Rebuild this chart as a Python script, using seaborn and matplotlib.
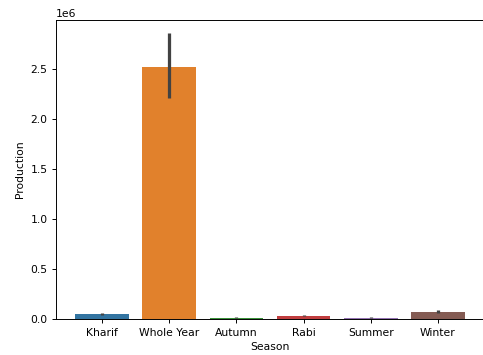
import matplotlib
matplotlib.use("Agg")
import matplotlib.pyplot as plt
import seaborn as sns
import pandas as pd

# Mean crop production per season, with 95% confidence bounds
seasons = ["Kharif", "Whole Year", "Autumn", "Rabi", "Summer", "Winter"]
production = [53000, 2526000, 16000, 33000, 15000, 73000]
ci_low = [44000, 2210000, 12000, 28000, 11000, 62000]
ci_high = [66000, 2866000, 21000, 38000, 19000, 92000]

df = pd.DataFrame({"Season": seasons, "Production": production})

plt.rcParams["font.size"] = 9

DPI = 86.3
fig = plt.figure(figsize=(483 / DPI, 355 / DPI), dpi=DPI)
ax = fig.add_axes([0.1155, 0.1009, 0.887, 0.8423])

sns.barplot(data=df, x="Season", y="Production", hue="Season",
            palette="tab10", legend=False, errorbar=None, ax=ax)

ax.vlines(range(len(seasons)), ci_low, ci_high, color=".26", linewidth=2.7)

ax.set_ylim(0, 2.99e6)
ax.set_xlabel("Season")
ax.set_ylabel("Production")

fig.savefig("out.png", dpi=DPI)
